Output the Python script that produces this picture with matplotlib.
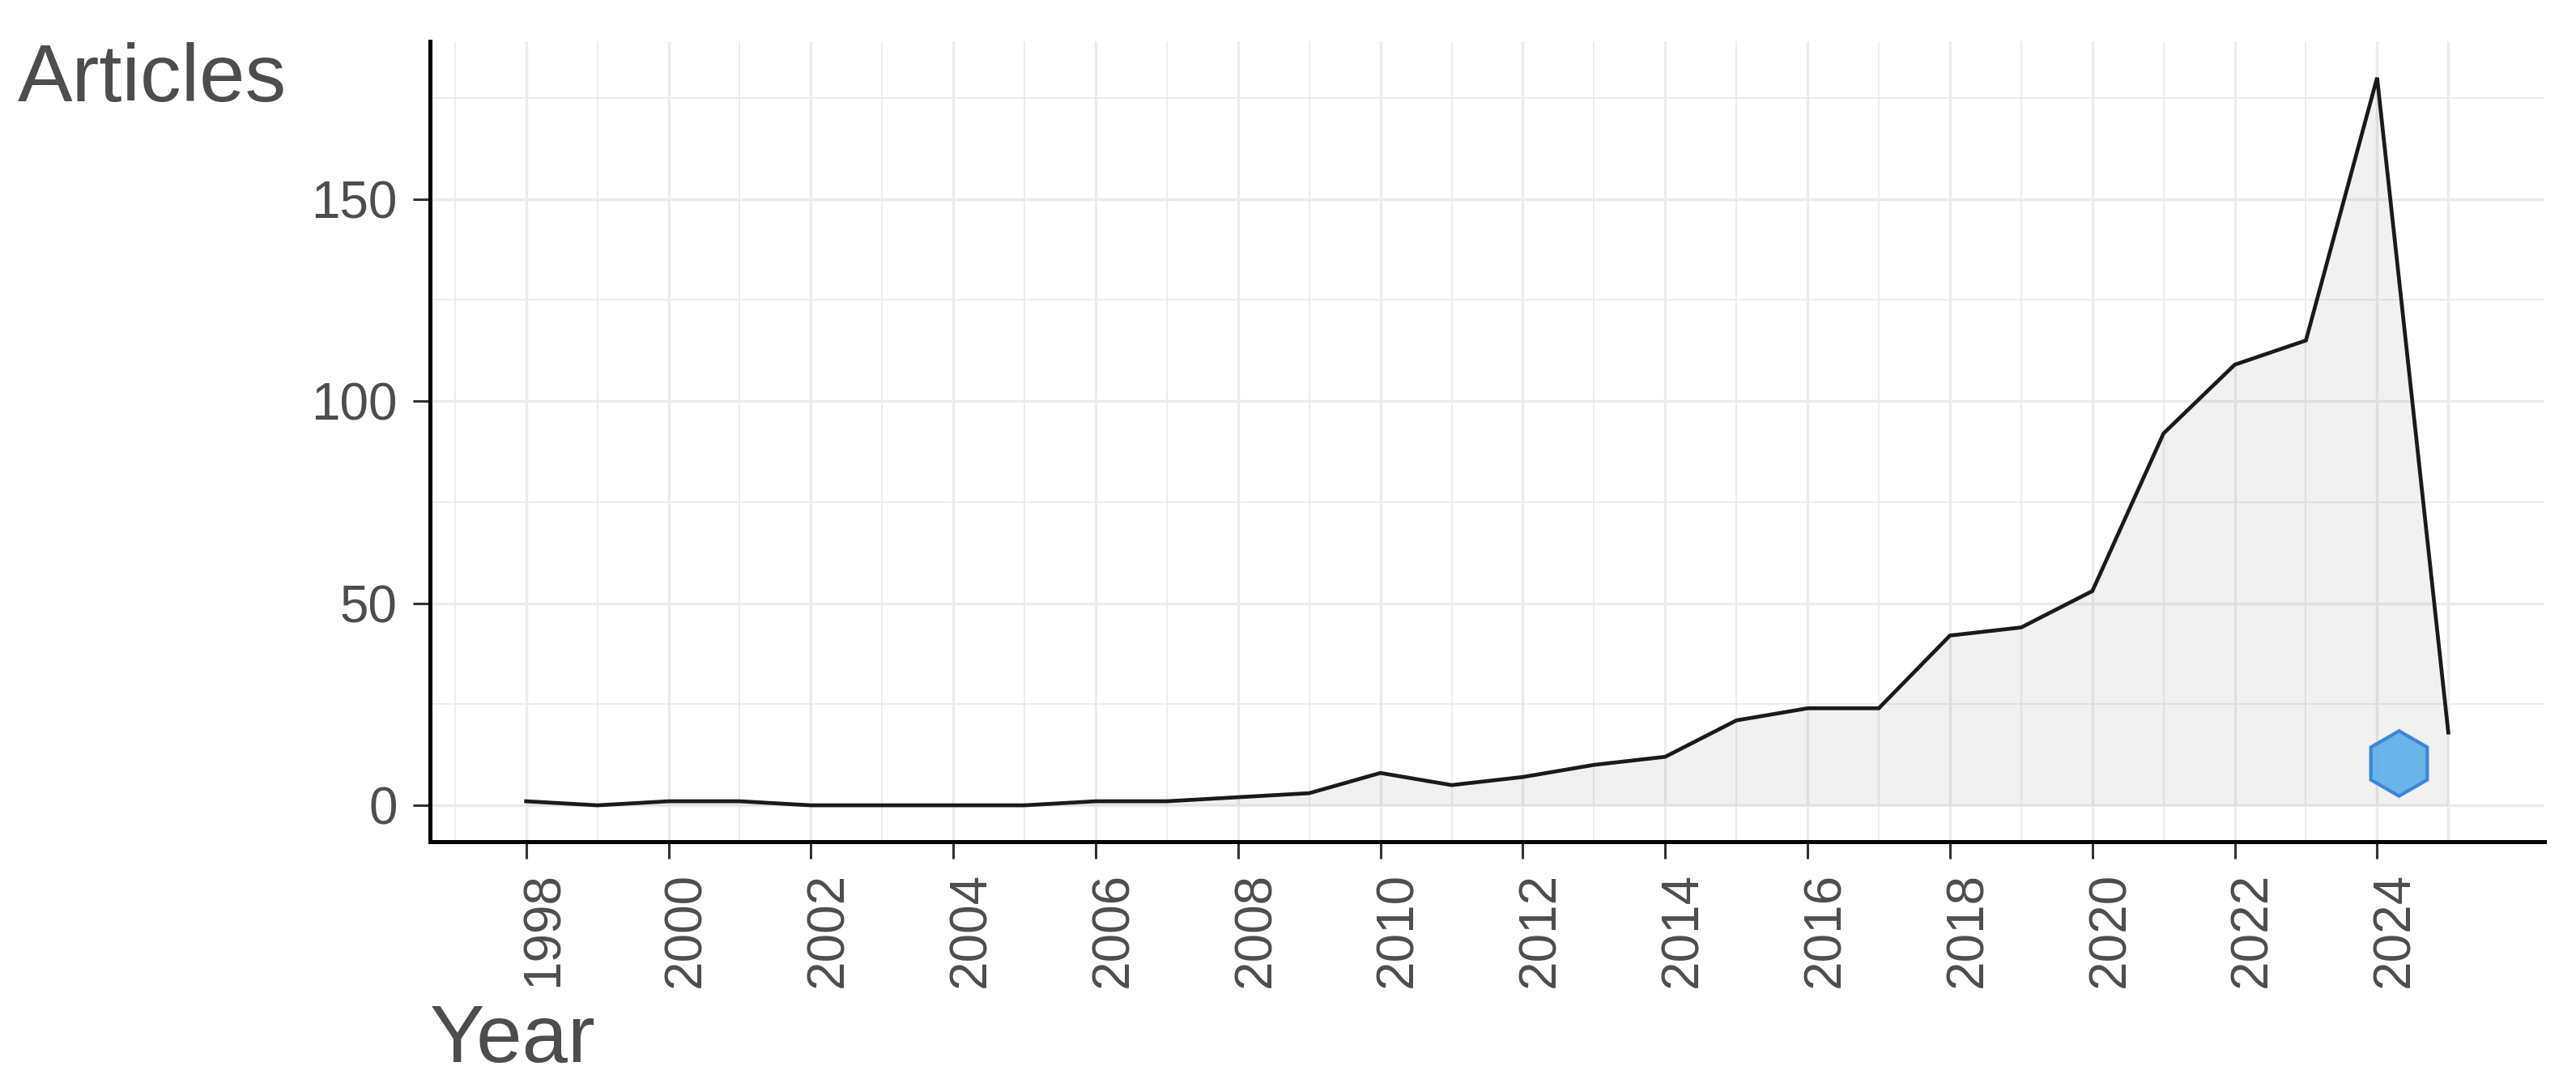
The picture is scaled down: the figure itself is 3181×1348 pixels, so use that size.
"""
Annual scientific production, 1998-2025 (area + line, ggplot-like style).
"""
import matplotlib
matplotlib.use("Agg")
import matplotlib.pyplot as plt
import matplotlib.transforms as mtransforms

# data
years = [1998, 1999, 2000, 2001, 2002, 2003, 2004, 2005, 2006, 2007,
         2008, 2009, 2010, 2011, 2012, 2013, 2014, 2015, 2016, 2017,
         2018, 2019, 2020, 2021, 2022, 2023, 2024, 2025]
articles = [1, 0, 1, 1, 0, 0, 0, 0, 1, 1,
            2, 3, 8, 5, 7, 10, 12, 21, 24, 24,
            42, 44, 53, 92, 109, 115, 180, 18]
major_x = list(range(1998, 2025, 2))
minor_x = list(range(1997, 2027, 2))
major_y = [0, 50, 100, 150]
minor_y = [25, 75, 125, 175]

plt.rcParams["font.family"] = ["Liberation Sans", "DejaVu Sans"]
TXT = "#4d4d4d"
GRID = "#ebebeb"

W, H = 3181, 1348
fig = plt.figure(figsize=(W / 100, H / 100), dpi=100)
ax = fig.add_axes([531 / W, 1 - 1039 / H, (3142 - 531) / W, (1039 - 51) / H])

# grid first
for x in minor_x:
    ax.axvline(x, color=GRID, lw=1.3, zorder=0)
for x in major_x + [2025]:
    ax.axvline(x, color=GRID, lw=2.4, zorder=0)
for y in minor_y:
    ax.axhline(y, color=GRID, lw=1.3, zorder=0)
for y in major_y:
    ax.axhline(y, color=GRID, lw=2.4, zorder=0)

ax.fill_between(years, articles, 0, color="#808080", alpha=0.11, lw=0, zorder=1)
ax.plot(years, articles, color="#1a1a1a", lw=3.4, zorder=2, solid_joinstyle="miter")

# little hexagon watermark standing in for the logo
ax.plot([2024.3], [10.5], marker="h", markersize=58, markerfacecolor="#5aaee8",
        markeredgecolor="#2f7fd8", markeredgewidth=3, alpha=0.9, zorder=3)

ax.set_xlim(1996.65, 2026.35)
ax.set_ylim(-9, 189)
ax.set_xticks(major_x)
ax.set_xticklabels([str(y) for y in major_x], rotation=90)
ax.set_yticks(major_y)

for s in ["top", "right"]:
    ax.spines[s].set_visible(False)
for s in ["left", "bottom"]:
    ax.spines[s].set_color("black")
    ax.spines[s].set_linewidth(3.6)

ax.tick_params(axis="both", colors="#333333", width=2.2, length=15,
               labelcolor=TXT, labelsize=46)
ax.tick_params(axis="y", pad=14)
ax.tick_params(axis="x", pad=12)

# shift rotated year labels a bit to the right like in the reference
off = mtransforms.ScaledTranslation(0.22, 0, fig.dpi_scale_trans)
for lbl in ax.get_xticklabels():
    lbl.set_transform(lbl.get_transform() + off)

fig.text(22 / W, 1 - 52 / H, "Articles", fontsize=73, color=TXT,
         ha="left", va="top")
fig.text(531 / W, 1 - 1311 / H, "Year", fontsize=73, color=TXT,
         ha="left", va="baseline")

fig.savefig("out.png", dpi=100, facecolor="white")
